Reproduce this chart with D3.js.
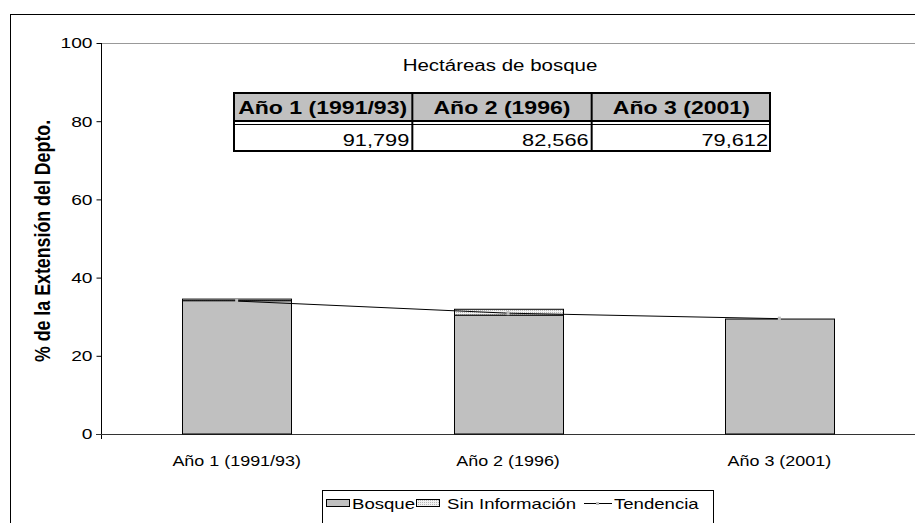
<!DOCTYPE html>
<html>
<head>
<meta charset="utf-8">
<script src="https://cdn.jsdelivr.net/npm/d3@7"></script>
<style>
  body { margin: 0; background: #fff; }
  svg { display: block; font-family: Arial, "Liberation Sans", sans-serif; }
</style>
</head>
<body>
<div id="chart"></div>
<script>
// data
const categories = ["Año 1 (1991/93)", "Año 2 (1996)", "Año 3 (2001)"];
const bosque = [34.1, 30.4, 29.4];
const sinInfo = [0.4, 1.5, 0];
const tendencia = [34.0, 30.9, 29.5];
const hectareas = ["91,799", "82,566", "79,612"];
const yTicks = [0, 20, 40, 60, 80, 100];
const legendItems = ["Bosque", "Sin Información", "Tendencia"];

const width = 915, height = 523;
const FONT = "Arial, 'Liberation Sans', sans-serif";
const K = 1.28; // the original picture is stretched sideways

// widen text to match the stretched original
function stretch(sel, k) {
    sel.each(function () {
        const w = this.getComputedTextLength();
        d3.select(this).attr("textLength", w * k).attr("lengthAdjust", "spacingAndGlyphs");
    });
}

const svg = d3.select("#chart").append("svg")
    .attr("width", width)
    .attr("height", height);

const defs = svg.append("defs");
const pat = defs.append("pattern")
    .attr("id", "dots")
    .attr("width", 2).attr("height", 2)
    .attr("patternUnits", "userSpaceOnUse");
pat.append("rect").attr("width", 2).attr("height", 2).attr("fill", "#f2f2f2");
pat.append("rect").attr("width", 1).attr("height", 1).attr("fill", "#b8b8b8");

// outer chart border
svg.append("rect")
    .attr("x", 10.5).attr("y", 14.5)
    .attr("width", 920).attr("height", 520)
    .attr("fill", "none")
    .attr("stroke", "#000");

const xScale = d3.scaleBand().domain(categories).range([101, 915])
    .paddingInner(0.6).paddingOuter(0.3);
const yScale = d3.scaleLinear().domain([0, 100]).range([434, 43]);

// plot area top border
svg.append("line")
    .attr("x1", 101).attr("x2", 915)
    .attr("y1", 43.5).attr("y2", 43.5)
    .attr("stroke", "#999");

// y axis
const yAxis = d3.axisLeft(yScale).tickValues(yTicks).tickSize(5).tickPadding(4);
const gy = svg.append("g")
    .attr("transform", "translate(101.5,0)")
    .call(yAxis);
gy.select(".domain").remove();
gy.append("line").attr("y1", 43).attr("y2", 439).attr("stroke", "#000");
gy.selectAll(".tick line").attr("stroke", "#000");
gy.selectAll(".tick text")
    .attr("font-size", 15).attr("fill", "#000")
    .attr("font-family", FONT)
    .call(stretch, K);

// x axis
const xAxis = d3.axisBottom(xScale).tickSize(0).tickPadding(22);
const gx = svg.append("g")
    .attr("transform", "translate(0,434.5)")
    .call(xAxis);
gx.select(".domain").attr("d", "M96,0H915").attr("stroke", "#333");
gx.selectAll(".tick text")
    .attr("font-size", 14).attr("fill", "#000")
    .attr("font-family", FONT)
    .call(stretch, K);

// y axis title
svg.append("text")
    .attr("transform", `translate(50,241) scale(${K},1) rotate(-90)`)
    .attr("text-anchor", "middle")
    .attr("font-size", 17.8)
    .attr("font-weight", "bold")
    .text("% de la Extensión del Depto.");

// stacked bars
const barData = categories.map((c, i) => ({ cat: c, b: bosque[i], s: sinInfo[i] }));

svg.selectAll(".bosque")
    .data(barData)
    .enter().append("rect")
    .attr("class", "bosque")
    .attr("x", d => Math.round(xScale(d.cat)) + 0.5)
    .attr("width", Math.round(xScale.bandwidth()))
    .attr("y", d => yScale(d.b))
    .attr("height", d => yScale(0) - yScale(d.b))
    .attr("fill", "#c0c0c0")
    .attr("stroke", "#000")
    .attr("stroke-width", 1);

svg.selectAll(".sininfo")
    .data(barData.filter(d => d.s > 0))
    .enter().append("rect")
    .attr("class", "sininfo")
    .attr("x", d => Math.round(xScale(d.cat)) + 0.5)
    .attr("width", Math.round(xScale.bandwidth()))
    .attr("y", d => yScale(d.b + d.s))
    .attr("height", d => yScale(d.b) - yScale(d.b + d.s))
    .attr("fill", "url(#dots)")
    .attr("stroke", "#000")
    .attr("stroke-width", 1);

// trend line
const line = d3.line()
    .x((d, i) => xScale(categories[i]) + xScale.bandwidth() / 2)
    .y(d => yScale(d));

svg.append("path")
    .datum(tendencia)
    .attr("d", line)
    .attr("fill", "none")
    .attr("stroke", "#000")
    .attr("stroke-width", 1);

svg.selectAll(".marker")
    .data(tendencia)
    .enter().append("rect")
    .attr("class", "marker")
    .attr("x", (d, i) => xScale(categories[i]) + xScale.bandwidth() / 2 - 1.5)
    .attr("y", d => yScale(d) - 2)
    .attr("width", 3).attr("height", 4)
    .attr("fill", "#bdbdbd");

// title and table of hectares
svg.append("text")
    .attr("x", 500).attr("y", 71)
    .attr("text-anchor", "middle")
    .attr("font-size", 16)
    .text("Hectáreas de bosque")
    .call(stretch, K);

const colScale = d3.scaleBand().domain(categories).range([233, 771]);
const tbl = svg.append("g");

tbl.append("rect")
    .attr("x", 233).attr("y", 92)
    .attr("width", 538).attr("height", 29)
    .attr("fill", "#c0c0c0");

tbl.selectAll(".head")
    .data(categories)
    .enter().append("text")
    .attr("class", "head")
    .attr("x", d => colScale(d) + colScale.bandwidth() / 2)
    .attr("y", 114)
    .attr("text-anchor", "middle")
    .attr("font-size", 18)
    .attr("font-weight", "bold")
    .text(d => d)
    .call(stretch, K);

tbl.selectAll(".val")
    .data(hectareas)
    .enter().append("text")
    .attr("class", "val")
    .attr("x", (d, i) => colScale(categories[i]) + colScale.bandwidth() - 3)
    .attr("y", 146)
    .attr("text-anchor", "end")
    .attr("font-size", 17)
    .text(d => d)
    .call(stretch, K);

// table lines
tbl.append("rect")
    .attr("x", 234).attr("y", 93)
    .attr("width", 536).attr("height", 58)
    .attr("fill", "none")
    .attr("stroke", "#000")
    .attr("stroke-width", 2);
tbl.append("line").attr("x1", 233).attr("x2", 771).attr("y1", 121).attr("y2", 121)
    .attr("stroke", "#000").attr("stroke-width", 2);
tbl.append("line").attr("x1", 233).attr("x2", 771).attr("y1", 124.5).attr("y2", 124.5)
    .attr("stroke", "#000").attr("stroke-width", 1);
tbl.selectAll(".div")
    .data(categories.slice(1))
    .enter().append("line")
    .attr("class", "div")
    .attr("x1", d => colScale(d)).attr("x2", d => colScale(d))
    .attr("y1", 92).attr("y2", 152)
    .attr("stroke", "#000").attr("stroke-width", 2);

// legend
const lg = svg.append("g");
lg.append("rect")
    .attr("x", 322.5).attr("y", 490.5)
    .attr("width", 391).attr("height", 40)
    .attr("fill", "#fff")
    .attr("stroke", "#000");

const legendX = [326, 416, 584];
const legendTextX = [352, 447, 614];
legendItems.forEach((name, i) => {
    const x = legendX[i];
    if (i < 2) {
        lg.append("rect")
            .attr("x", x + 0.5).attr("y", 499.5)
            .attr("width", 23).attr("height", 7)
            .attr("fill", i === 0 ? "#c0c0c0" : "url(#dots)")
            .attr("stroke", "#000");
    } else {
        lg.append("line")
            .attr("x1", x).attr("x2", x + 28)
            .attr("y1", 503.5).attr("y2", 503.5)
            .attr("stroke", "#000");
        lg.append("rect")
            .attr("x", x + 12).attr("y", 502)
            .attr("width", 3).attr("height", 3)
            .attr("fill", "#bdbdbd");
    }
    lg.append("text")
        .attr("x", legendTextX[i])
        .attr("y", 509)
        .attr("font-size", 14.5)
        .text(name)
        .call(stretch, K);
});
</script>
</body>
</html>
